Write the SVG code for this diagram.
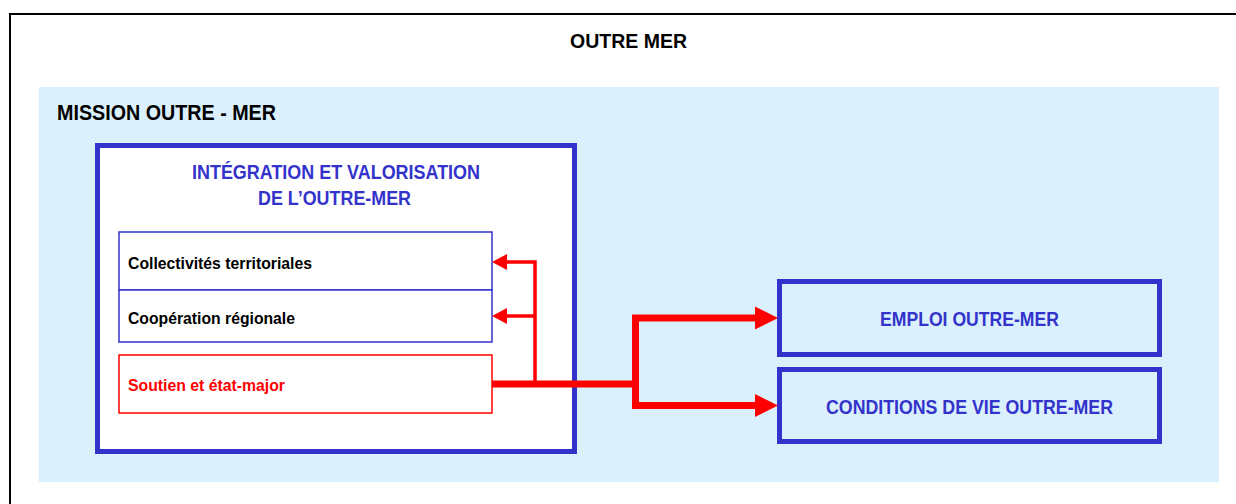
<svg xmlns="http://www.w3.org/2000/svg" width="1236" height="504" viewBox="0 0 1236 504">
<style>
.t{font-family:"Liberation Sans",Arial,sans-serif;font-weight:bold}
.blk{fill:#000}
.blu{fill:#3333CC}
.red{fill:#FF0000}
.big{stroke:#3333CC;stroke-width:5}
.sub{fill:#fff;stroke:#3333CC;stroke-width:1.5}
.subr{fill:#fff;stroke:#FF0000;stroke-width:1.5}
.thin{stroke:#FF0000;stroke-width:3.5;fill:none}
.thick{stroke:#FF0000;stroke-width:7;fill:none}
.head{fill:#FF0000}
</style>
<rect x="0" y="0" width="1236" height="504" fill="#fff"/>
<g id="outre-mer">
<rect x="10" y="14" width="1240" height="500" fill="#fff" stroke="#000" stroke-width="2"/>
<text class="t blk" x="628.5" y="48" font-size="21" text-anchor="middle" textLength="117" lengthAdjust="spacingAndGlyphs">OUTRE MER</text>
</g>
<g id="mission">
<rect x="39" y="87" width="1180" height="395" fill="#DBF0FD"/>
<text class="t blk" x="57" y="120" font-size="22" textLength="219" lengthAdjust="spacingAndGlyphs">MISSION OUTRE - MER</text>
</g>
<g id="integration">
<rect x="97.5" y="145.5" width="477" height="306" fill="#fff" class="big"/>
<text class="t blu" x="336" y="179" font-size="21" text-anchor="middle" textLength="288" lengthAdjust="spacingAndGlyphs">INTÉGRATION ET VALORISATION</text>
<text class="t blu" x="334.5" y="205" font-size="21" text-anchor="middle" textLength="153" lengthAdjust="spacingAndGlyphs">DE L’OUTRE-MER</text>
</g>
<g id="collectivites">
<rect x="119" y="232" width="373" height="58" class="sub"/>
<text class="t blk" x="128" y="269" font-size="16.5" textLength="184" lengthAdjust="spacingAndGlyphs">Collectivités territoriales</text>
</g>
<g id="cooperation">
<rect x="119" y="290" width="373" height="52" class="sub"/>
<text class="t blk" x="128" y="324" font-size="16.5" textLength="167" lengthAdjust="spacingAndGlyphs">Coopération régionale</text>
</g>
<g id="soutien">
<rect x="119" y="355" width="373" height="58" class="subr"/>
<text class="t red" x="128" y="391" font-size="16.5" textLength="157" lengthAdjust="spacingAndGlyphs">Soutien et état-major</text>
</g>
<g id="emploi">
<rect x="779.5" y="281.5" width="380" height="73" fill="#DBF0FD" class="big"/>
<text class="t blu" x="969.5" y="326" font-size="20" text-anchor="middle" textLength="179" lengthAdjust="spacingAndGlyphs">EMPLOI OUTRE-MER</text>
</g>
<g id="conditions">
<rect x="779.5" y="369.5" width="380" height="72" fill="#DBF0FD" class="big"/>
<text class="t blu" x="969.5" y="414" font-size="20" text-anchor="middle" textLength="287" lengthAdjust="spacingAndGlyphs">CONDITIONS DE VIE OUTRE-MER</text>
</g>
<g id="connectors">
<polyline class="thin" points="535,384 535,262 506,262"/>
<line class="thin" x1="535" y1="316" x2="506" y2="316"/>
<polygon class="head" points="507,254 492,262 507,270"/>
<polygon class="head" points="507,308 492,316 507,324"/>
<line class="thick" x1="492" y1="384" x2="635.5" y2="384"/>
<polyline class="thick" points="756,318 635.5,318 635.5,405.5 756,405.5"/>
<polygon class="head" points="755,306.5 778,318 755,329.5"/>
<polygon class="head" points="755,394 778,405.5 755,417"/>
</g>
</svg>
